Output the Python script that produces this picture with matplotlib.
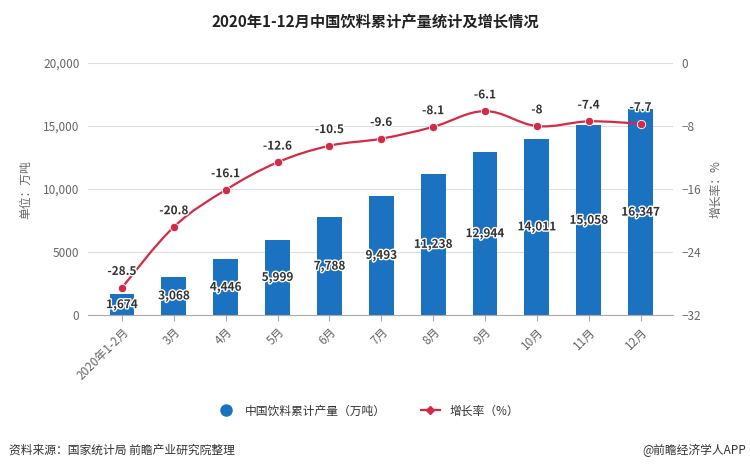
import matplotlib.pyplot as plt
import matplotlib.patheffects as pe
from matplotlib.path import Path
from matplotlib.patches import PathPatch
from matplotlib.lines import Line2D
from matplotlib.ticker import FuncFormatter

plt.rcParams['font.family'] = ['Noto Sans CJK SC', 'DejaVu Sans']

months = ['2020年1-2月', '3月', '4月', '5月', '6月', '7月', '8月', '9月', '10月', '11月', '12月']
output = [1674, 3068, 4446, 5999, 7788, 9493, 11238, 12944, 14011, 15058, 16347]
growth = [-28.5, -20.8, -16.1, -12.6, -10.5, -9.6, -8.1, -6.1, -8, -7.4, -7.7]

BAR = '#1b72c0'
RED = '#d42a46'
GREY = '#666666'

fig = plt.figure(figsize=(7.5, 4.74), dpi=100)
ax = fig.add_axes([0.117, 0.335, 0.78, 0.532])
ax2 = ax.twinx()

x = list(range(len(months)))
ax.bar(x, output, width=0.48, color=BAR, zorder=2)
ax.set_xlim(-0.66, 10.62)
ax.set_ylim(0, 20000)
ax.set_yticks([0, 5000, 10000, 15000, 20000])
ax.yaxis.set_major_formatter(FuncFormatter(lambda v, p: '5000' if v == 5000 else f'{int(v):,}'))
ax.grid(axis='y', color='#dddddd', linewidth=0.8, zorder=0)
ax.set_axisbelow(True)
ax.set_xticks(x)
ax.set_xticklabels(months, rotation=45, ha='right', rotation_mode='anchor')
for s in ['top', 'right', 'left']:
    ax.spines[s].set_visible(False)
    ax2.spines[s].set_visible(False)
ax2.spines['bottom'].set_visible(False)
ax.spines['bottom'].set_color('#aaaaaa')
ax.tick_params(axis='y', length=0, pad=6, labelsize=8.5, labelcolor=GREY)
ax.tick_params(axis='x', length=4, color='#aaaaaa', labelsize=8.5, labelcolor=GREY)
ax.set_ylabel('单位：万吨', fontsize=8.5, color=GREY, labelpad=8)

for xi, v in zip(x, output):
    ax.text(xi, v / 2, f'{v:,}', ha='center', va='center', fontsize=8.5,
            fontweight='bold', color='#333333', zorder=5,
            path_effects=[pe.withStroke(linewidth=2, foreground='white')])

# smooth growth line (cubic bezier through the data points)
ax2.set_ylim(-32, 0)
ax2.set_yticks([-32, -24, -16, -8, 0])
ax2.tick_params(axis='y', length=0, pad=6, labelsize=8.5, labelcolor=GREY)
ax2.set_ylabel('增长率：%', fontsize=8.5, color=GREY, labelpad=6, rotation=90)

verts = [(x[0], growth[0])]
codes = [Path.MOVETO]
k = 0.18
for i in range(len(x) - 1):
    p0 = (x[i - 1], growth[i - 1]) if i > 0 else (x[i], growth[i])
    p1 = (x[i], growth[i])
    p2 = (x[i + 1], growth[i + 1])
    p3 = (x[i + 2], growth[i + 2]) if i + 2 < len(x) else p2
    c1 = (p1[0] + (p2[0] - p0[0]) * k, p1[1] + (p2[1] - p0[1]) * k)
    c2 = (p2[0] - (p3[0] - p1[0]) * k, p2[1] - (p3[1] - p1[1]) * k)
    verts += [c1, c2, p2]
    codes += [Path.CURVE4] * 3
ax2.add_patch(PathPatch(Path(verts, codes), facecolor='none', edgecolor=RED, linewidth=1.6, zorder=3))
ax2.plot(x, growth, 'o', color=RED, markersize=6, markeredgecolor='white', markeredgewidth=0.6, zorder=4)
for xi, g in zip(x, growth):
    ax2.annotate(f'{g:g}', (xi, g), xytext=(0, 7), textcoords='offset points',
                 ha='center', va='bottom', fontsize=8.5, fontweight='bold', color='#333333', zorder=5,
                 path_effects=[pe.withStroke(linewidth=2, foreground='white')])

fig.text(0.5, 0.953, '2020年1-12月中国饮料累计产量统计及增长情况', ha='center', va='center',
         fontsize=11, fontweight='bold', color='#222222')

handles = [Line2D([], [], marker='o', linestyle='none', color=BAR, markersize=8),
           Line2D([], [], marker='D', color=RED, markersize=4, linewidth=1.6)]
fig.legend(handles, ['中国饮料累计产量（万吨）', '增长率（%）'], loc='center', ncol=2,
           bbox_to_anchor=(0.49, 0.133), frameon=False, fontsize=8.5, columnspacing=3,
           handlelength=1.6, labelcolor='#333333')

fig.text(0.012, 0.05, '资料来源：国家统计局 前瞻产业研究院整理', ha='left', va='center', fontsize=8.5, color='#333333')
fig.text(0.995, 0.05, '@前瞻经济学人APP', ha='right', va='center', fontsize=8.5, color='#333333')

fig.savefig('out.png', dpi=100)
